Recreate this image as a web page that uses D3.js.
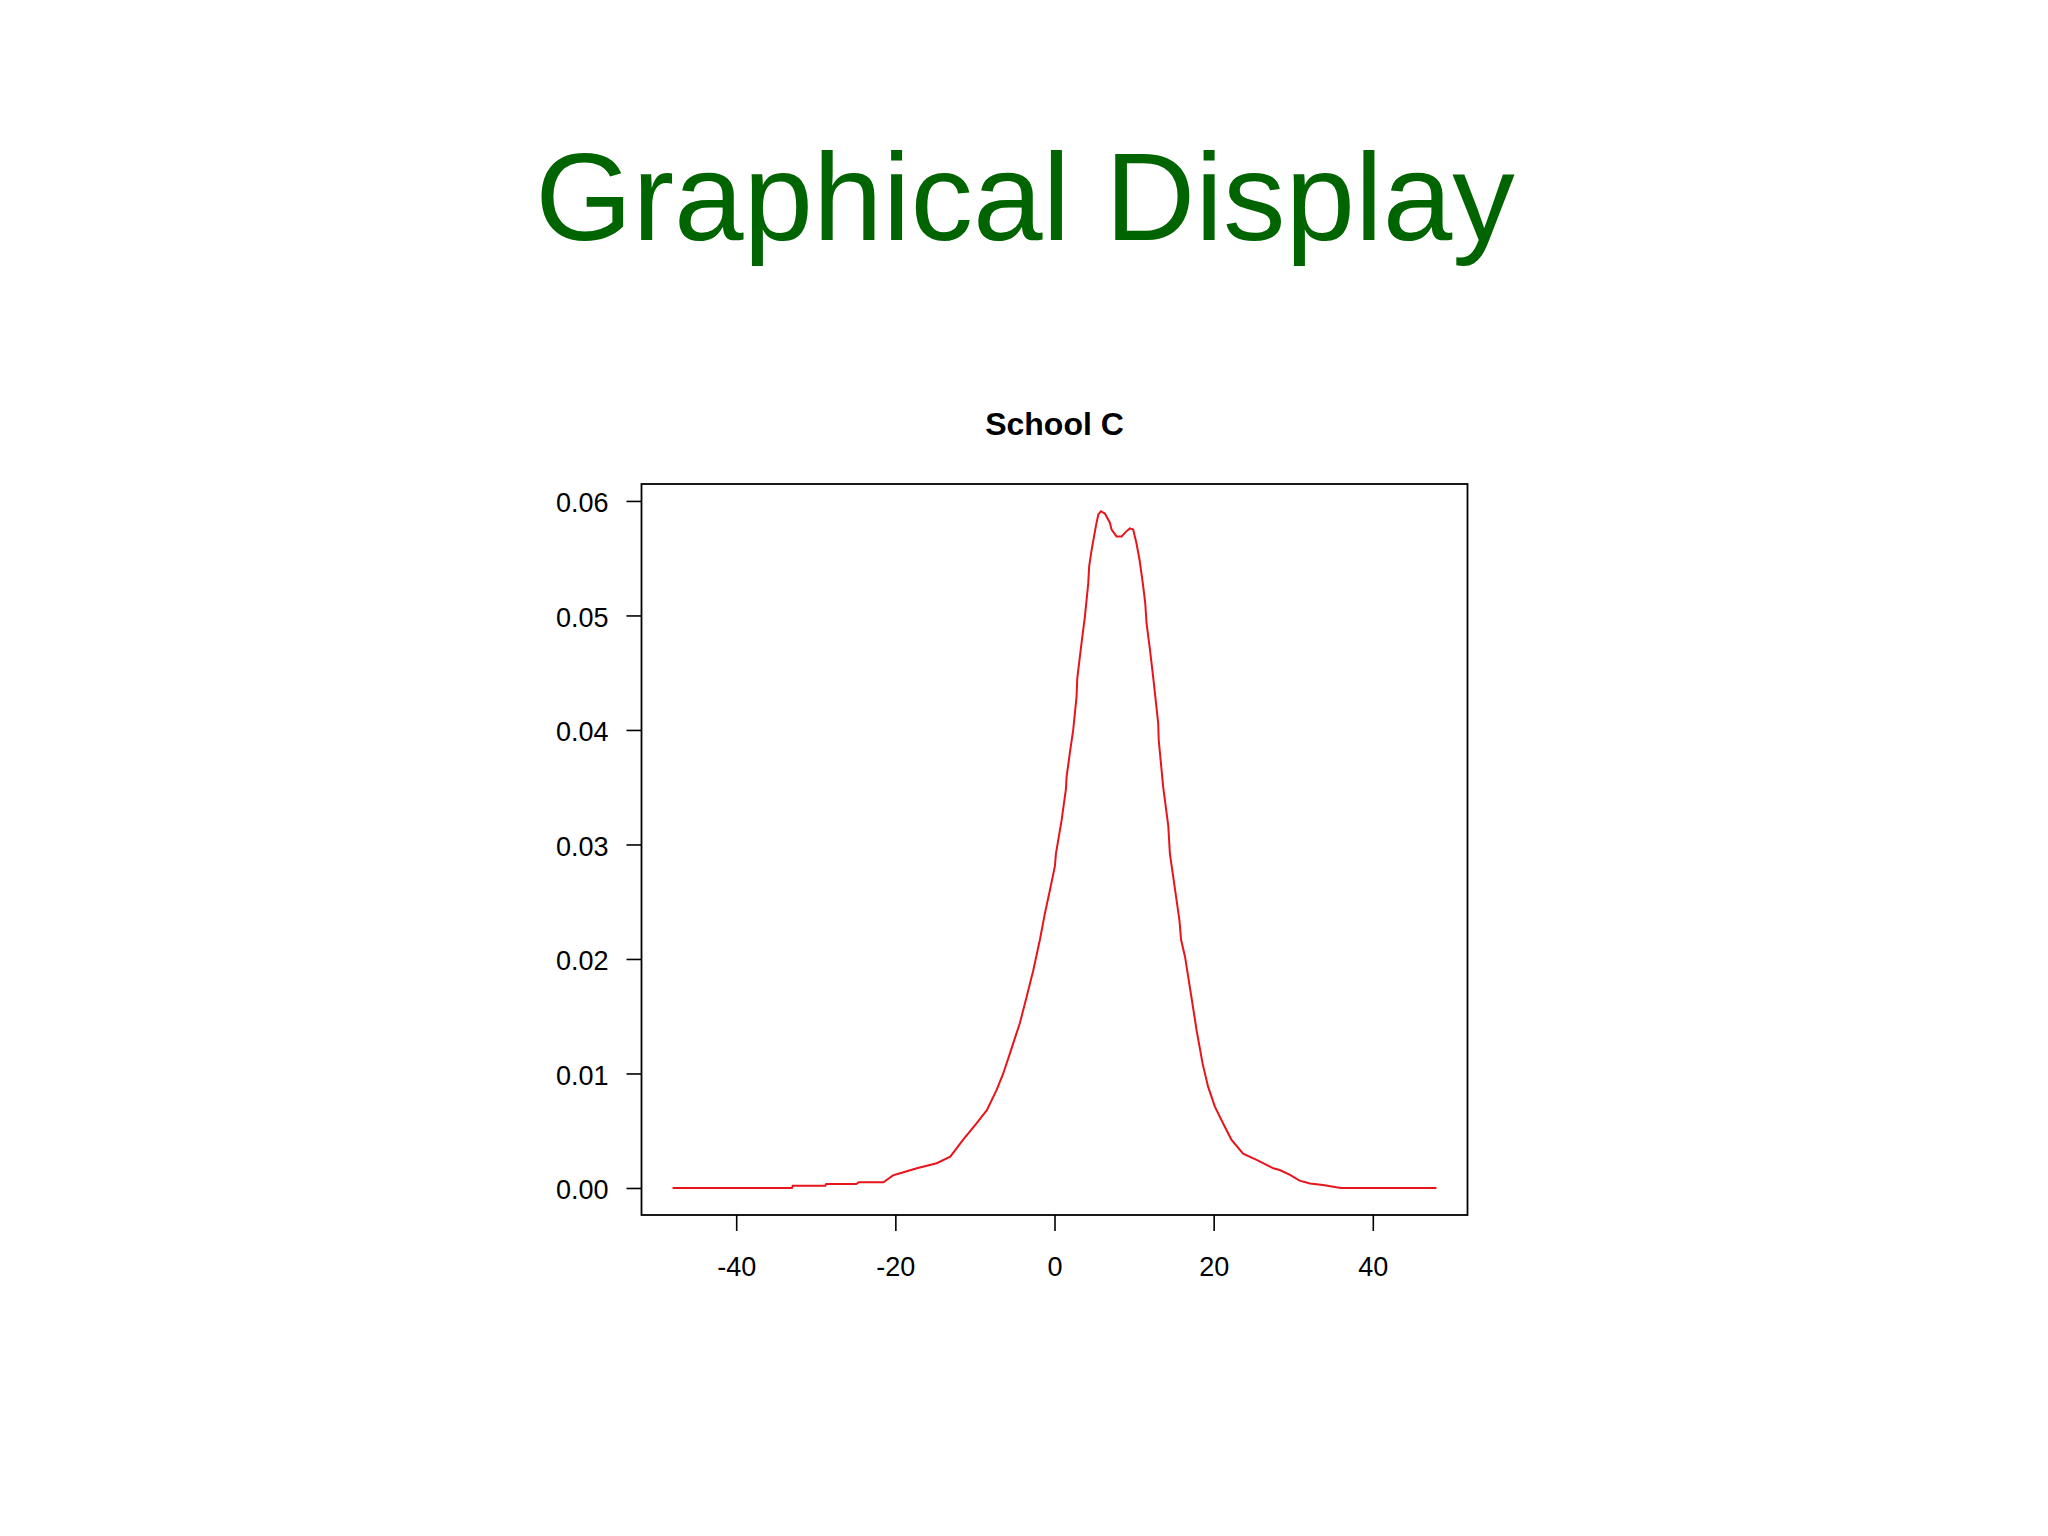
<!DOCTYPE html>
<html>
<head>
<meta charset="utf-8">
<script src="https://cdn.jsdelivr.net/npm/d3@7"></script>
<style>
  body { margin: 0; background: #fff; }
  svg { display: block; font-family: "Liberation Sans", Arial, sans-serif; }
</style>
</head>
<body>
<script>
// density curve
var xVals = [-48, -33, -32.9, -28.8, -28.7, -24.9, -24.6, -21.5, -21.1, -20.3, -19.4, -17.3, -14.8, -13.1,
  -11.5, -9.8, -8.5, -7.27, -6.44, -5.6, -4.35, -3.5, -2.67, -1.83, -1.2, -0.58, 0.05, 0.18, 0.89, 1.43,
  1.52, 1.93, 2.35, 2.77, 2.86, 3.4, 3.82, 4.24, 4.36, 4.66, 5.2, 5.5, 5.83, 6.33, 6.96, 7.17, 7.8, 8.43,
  8.97, 9.47, 9.89, 10.3, 10.7, 11.1, 11.4, 11.57, 12.0, 12.45, 13.03, 13.1, 13.66, 14.3, 14.5, 15.1,
  15.7, 15.9, 16.4, 17.2, 17.85, 18.6, 19.3, 20.15, 21.4, 22.25, 23.7, 25.4, 27.5, 28.3, 29.6, 30.8,
  32.1, 33.75, 35.4, 36, 48];
var density = [0, 0, 0.0002, 0.0002, 0.00035, 0.00035, 0.0005, 0.0005, 0.0007, 0.0011, 0.00128, 0.00172,
  0.00216, 0.00273, 0.0042, 0.00565, 0.0068, 0.00856, 0.0100, 0.01176, 0.0144, 0.0167, 0.0190, 0.0217,
  0.0240, 0.0260, 0.0281, 0.0292, 0.0321, 0.0348, 0.0359, 0.0380, 0.0400, 0.0429, 0.0445, 0.0476, 0.0499,
  0.0528, 0.0543, 0.0557, 0.0578, 0.0588, 0.0591, 0.0589, 0.0581, 0.0575, 0.0569, 0.0569, 0.0573, 0.0576,
  0.0575, 0.0563, 0.0548, 0.0528, 0.0511, 0.0493, 0.0470, 0.0443, 0.0406, 0.0391, 0.0350, 0.0316, 0.0292,
  0.0263, 0.0234, 0.0217, 0.0202, 0.0167, 0.0138, 0.0109, 0.00885, 0.0071, 0.00535, 0.0042, 0.0030,
  0.00245, 0.00172, 0.00157, 0.00114, 0.00064, 0.0004, 0.00026, 0.00006, 0, 0];
var xTicks = [-40, -20, 0, 20, 40];
var yTicks = [0, 0.01, 0.02, 0.03, 0.04, 0.05, 0.06];

var pageTitle = "Graphical Display";
var plotTitle = "School C";

var W = 2048, H = 1536;
var box = { left: 641.5, right: 1467.5, top: 484, bottom: 1215 };

var svg = d3.select("body").append("svg")
  .attr("width", W)
  .attr("height", H);

// slide heading
svg.append("text")
  .attr("x", 1025)
  .attr("y", 240)
  .attr("text-anchor", "middle")
  .attr("font-size", 125)
  .attr("fill", "#006400")
  .text(pageTitle);

svg.append("text")
  .attr("x", (box.left + box.right) / 2)
  .attr("y", 435)
  .attr("text-anchor", "middle")
  .attr("font-size", 32)
  .attr("font-weight", "bold")
  .attr("fill", "#000")
  .text(plotTitle);

var x = d3.scaleLinear().domain([-51.9, 51.9]).range([box.left, box.right]);
var y = d3.scaleLinear().domain([-0.00236, 0.06148]).range([box.bottom, box.top]);

// axes
var yAxis = svg.append("g")
  .attr("transform", "translate(" + box.left + ",0)")
  .call(d3.axisLeft(y).tickValues(yTicks).tickFormat(d3.format(".2f")).tickSize(15).tickPadding(18));

var xAxis = svg.append("g")
  .attr("transform", "translate(0," + box.bottom + ")")
  .call(d3.axisBottom(x).tickValues(xTicks).tickFormat(d3.format("d")).tickSize(16).tickPadding(26));

[xAxis, yAxis].forEach(function(g) {
  g.select(".domain").remove();
  g.selectAll(".tick line").attr("stroke", "#000").attr("stroke-width", 1.6);
  g.selectAll(".tick text")
    .attr("fill", "#000")
    .attr("font-size", 27)
    .attr("font-family", "\"Liberation Sans\", Arial, sans-serif");
});
xAxis.selectAll(".tick text").text(function(d) { return d < 0 ? "-" + Math.abs(d) : d; });
yAxis.selectAll(".tick text").attr("dy", "0.4em");

// plot frame
svg.append("rect")
  .attr("x", box.left)
  .attr("y", box.top)
  .attr("width", box.right - box.left)
  .attr("height", box.bottom - box.top)
  .attr("fill", "none")
  .attr("stroke", "#000")
  .attr("stroke-width", 1.8);

var pts = xVals.map(function(v, i) { return [v, density[i]]; });

var line = d3.line()
  .x(function(d) { return x(d[0]); })
  .y(function(d) { return y(d[1]); });

svg.append("path")
  .datum(pts)
  .attr("d", line)
  .attr("fill", "none")
  .attr("stroke", "#e8141c")
  .attr("stroke-width", 2);
</script>
</body>
</html>
